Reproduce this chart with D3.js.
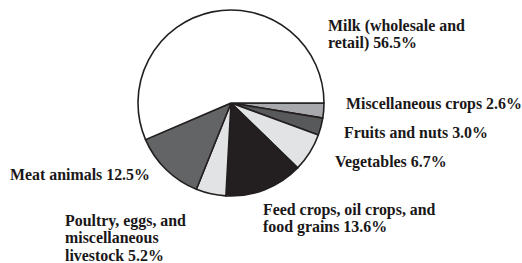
<!DOCTYPE html>
<html>
<head>
<meta charset="utf-8">
<script src="https://cdn.jsdelivr.net/npm/d3@7"></script>
<style>
  body { margin: 0; background: #fff; }
  text { font-family: "Liberation Serif", "Times New Roman", serif; font-weight: bold; fill: #1a1718; }
</style>
</head>
<body>
<div id="chart"></div>
<script>

var width = 522, height = 263;

// slices clockwise, starting at 3 o'clock
var categories = ["Miscellaneous crops", "Fruits and nuts", "Vegetables",
    "Feed crops, oil crops, and food grains", "Poultry, eggs, and miscellaneous livestock",
    "Meat animals", "Milk (wholesale and retail)"];
var shares = [2.6, 3.0, 6.7, 13.6, 5.2, 12.5, 56.5];
var fills = ["#a7a9ac", "#58595b", "#e2e3e4", "#231f20", "#e2e3e4", "#636466", "#ffffff"];

// label text, one entry per line
var labelLines = [
    ["Miscellaneous crops 2.6%"],
    ["Fruits and nuts 3.0%"],
    ["Vegetables 6.7%"],
    ["Feed crops, oil crops, and", "food grains 13.6%"],
    ["Poultry, eggs, and", "miscellaneous", "livestock 5.2%"],
    ["Meat animals 12.5%"],
    ["Milk (wholesale and", "retail) 56.5%"]
];
var labelPos = [[346, 109], [344, 138], [335, 167], [263, 215], [65, 226], [10, 180], [328, 31]];

var cx = 231, cy = 103, r = 93;

var svg = d3.select("#chart").append("svg")
    .attr("width", width)
    .attr("height", height);

var pie = d3.pie()
    .sort(null)
    .startAngle(Math.PI / 2)
    .endAngle(Math.PI / 2 + 2 * Math.PI)
    .value(function (d) { return d; });

var arc = d3.arc().innerRadius(0).outerRadius(r);

var g = svg.append("g").attr("transform", "translate(" + cx + "," + cy + ")");

g.selectAll("path")
    .data(pie(shares))
    .join("path")
    .attr("d", arc)
    .attr("fill", function (d, i) { return fills[i]; })
    .attr("stroke", "#231f20")
    .attr("stroke-width", 1.6)
    .attr("stroke-linejoin", "round");

var labels = svg.selectAll("text.lbl")
    .data(labelLines)
    .join("text")
    .attr("class", "lbl")
    .attr("font-size", "15.9px")
    .attr("x", function (d, i) { return labelPos[i][0]; })
    .attr("y", function (d, i) { return labelPos[i][1]; });

labels.selectAll("tspan")
    .data(function (d, i) { return d.map(function (t) { return { t: t, i: i }; }); })
    .join("tspan")
    .attr("x", function (d) { return labelPos[d.i][0]; })
    .attr("dy", function (d, j) { return j === 0 ? 0 : 17.3; })
    .text(function (d) { return d.t; });

</script>
</body>
</html>
